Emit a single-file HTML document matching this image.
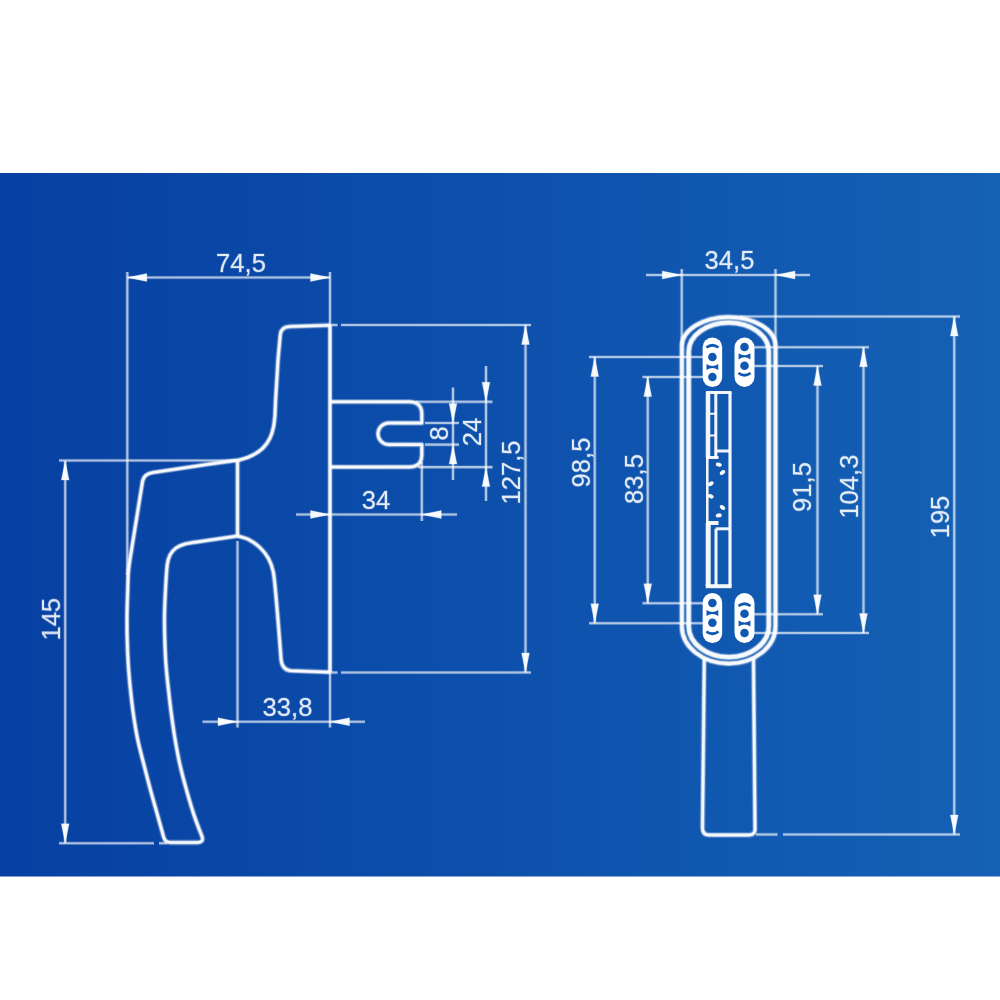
<!DOCTYPE html>
<html lang="en">
<head>
<meta charset="utf-8">
<title>Window handle – dimensional drawing</title>
<style>
html,body{margin:0;padding:0;background:#fff;}
body{width:1000px;height:1000px;overflow:hidden;position:relative;}
svg{position:absolute;left:0;top:0;display:block;}
.thin path{fill:none;stroke:#fff;stroke-opacity:.58;stroke-width:2.1;}
.thinh path{fill:none;stroke:#fff;stroke-opacity:.2;stroke-width:3.7;}
.arr polygon{fill:#fff;fill-opacity:.94;stroke:#fff;stroke-opacity:.25;stroke-width:1.2;stroke-linejoin:round;}
.thick path{fill:none;stroke:#fff;stroke-opacity:.9;stroke-width:2.6;stroke-linejoin:round;stroke-linecap:butt;}
.thickm path{fill:none;stroke:#fff;stroke-opacity:.5;stroke-width:4.0;stroke-linejoin:round;stroke-linecap:butt;}
.thickh path{fill:none;stroke:#fff;stroke-opacity:.22;stroke-width:5.8;stroke-linejoin:round;stroke-linecap:butt;}
.mech path{fill:none;stroke:#fff;stroke-opacity:.95;}
.bl{fill:#1159b0;stroke:none;}
.bls{fill:none;stroke:#1159b0;stroke-width:2.8;}
.dim text{font-family:"Liberation Sans",Arial,sans-serif;font-size:25.6px;fill:#fff;fill-opacity:.9;stroke:#fff;stroke-width:1.3;stroke-opacity:.22;stroke-linejoin:round;}
</style>
</head>
<body>
<svg width="1000" height="1000" viewBox="0 0 1000 1000" role="img" aria-label="Window handle dimensional drawing, side and front view">
<defs>
<linearGradient id="bg" x1="0" y1="0" x2="1" y2="0">
<stop offset="0" stop-color="#0740a2"/>
<stop offset="0.35" stop-color="#0b4ba9"/>
<stop offset="0.7" stop-color="#1057b0"/>
<stop offset="1" stop-color="#1561b5"/>
</linearGradient>
</defs>
<rect x="0" y="173" width="1000" height="703.5" fill="url(#bg)"/>
<g>
<g class="thinh">
<path d="M127.30,272.00 L127.30,575.00"/>
<path d="M330.00,272.00 L330.00,325.00"/>
<path d="M127.30,277.50 L330.00,277.50"/>
<path d="M330.00,325.00 L337.50,325.00"/>
<path d="M330.00,672.50 L337.50,672.50"/>
<path d="M59.00,460.50 L237.00,460.50"/>
<path d="M59.00,843.25 L154.00,843.25"/>
<path d="M159.00,843.25 L167.00,843.25"/>
<path d="M65.20,461.00 L65.20,843.00"/>
<path d="M202.50,721.75 L365.00,721.75"/>
<path d="M237.50,541.00 L237.50,727.50"/>
<path d="M330.00,672.00 L330.00,727.50"/>
<path d="M296.00,514.50 L457.00,514.50"/>
<path d="M421.80,462.00 L421.80,521.00"/>
<path d="M453.00,387.50 L453.00,480.00"/>
<path d="M425.00,423.00 L459.00,423.00"/>
<path d="M425.00,444.60 L459.00,444.60"/>
<path d="M486.00,366.00 L486.00,501.00"/>
<path d="M416.00,401.80 L492.50,401.80"/>
<path d="M418.00,467.10 L492.50,467.10"/>
<path d="M525.50,325.00 L525.50,672.50"/>
<path d="M341.00,325.00 L531.00,325.00"/>
<path d="M341.00,672.50 L531.00,672.50"/>
<path d="M646.00,275.00 L810.00,275.00"/>
<path d="M681.75,269.00 L681.75,345.00"/>
<path d="M775.50,269.00 L775.50,345.00"/>
<path d="M740.00,316.50 L960.00,316.50"/>
<path d="M756.00,834.50 L777.50,834.50"/>
<path d="M783.00,834.50 L960.00,834.50"/>
<path d="M954.25,316.50 L954.25,834.50"/>
<path d="M754.00,347.25 L869.00,347.25"/>
<path d="M754.00,633.00 L869.00,633.00"/>
<path d="M863.50,347.25 L863.50,633.00"/>
<path d="M754.00,366.00 L823.00,366.00"/>
<path d="M754.00,614.25 L823.00,614.25"/>
<path d="M817.50,366.00 L817.50,614.25"/>
<path d="M589.00,357.00 L703.00,357.00"/>
<path d="M589.00,623.25 L703.00,623.25"/>
<path d="M594.75,357.00 L594.75,623.25"/>
<path d="M642.50,377.00 L703.00,377.00"/>
<path d="M642.50,603.25 L703.00,603.25"/>
<path d="M647.75,377.00 L647.75,603.25"/>
</g>
<g class="thin">
<path d="M127.30,272.00 L127.30,575.00"/>
<path d="M330.00,272.00 L330.00,325.00"/>
<path d="M127.30,277.50 L330.00,277.50"/>
<path d="M330.00,325.00 L337.50,325.00"/>
<path d="M330.00,672.50 L337.50,672.50"/>
<path d="M59.00,460.50 L237.00,460.50"/>
<path d="M59.00,843.25 L154.00,843.25"/>
<path d="M159.00,843.25 L167.00,843.25"/>
<path d="M65.20,461.00 L65.20,843.00"/>
<path d="M202.50,721.75 L365.00,721.75"/>
<path d="M237.50,541.00 L237.50,727.50"/>
<path d="M330.00,672.00 L330.00,727.50"/>
<path d="M296.00,514.50 L457.00,514.50"/>
<path d="M421.80,462.00 L421.80,521.00"/>
<path d="M453.00,387.50 L453.00,480.00"/>
<path d="M425.00,423.00 L459.00,423.00"/>
<path d="M425.00,444.60 L459.00,444.60"/>
<path d="M486.00,366.00 L486.00,501.00"/>
<path d="M416.00,401.80 L492.50,401.80"/>
<path d="M418.00,467.10 L492.50,467.10"/>
<path d="M525.50,325.00 L525.50,672.50"/>
<path d="M341.00,325.00 L531.00,325.00"/>
<path d="M341.00,672.50 L531.00,672.50"/>
<path d="M646.00,275.00 L810.00,275.00"/>
<path d="M681.75,269.00 L681.75,345.00"/>
<path d="M775.50,269.00 L775.50,345.00"/>
<path d="M740.00,316.50 L960.00,316.50"/>
<path d="M756.00,834.50 L777.50,834.50"/>
<path d="M783.00,834.50 L960.00,834.50"/>
<path d="M954.25,316.50 L954.25,834.50"/>
<path d="M754.00,347.25 L869.00,347.25"/>
<path d="M754.00,633.00 L869.00,633.00"/>
<path d="M863.50,347.25 L863.50,633.00"/>
<path d="M754.00,366.00 L823.00,366.00"/>
<path d="M754.00,614.25 L823.00,614.25"/>
<path d="M817.50,366.00 L817.50,614.25"/>
<path d="M589.00,357.00 L703.00,357.00"/>
<path d="M589.00,623.25 L703.00,623.25"/>
<path d="M594.75,357.00 L594.75,623.25"/>
<path d="M642.50,377.00 L703.00,377.00"/>
<path d="M642.50,603.25 L703.00,603.25"/>
<path d="M647.75,377.00 L647.75,603.25"/>
</g>
<g class="arr">
<polygon points="127.30,277.50 146.80,273.60 146.80,281.40"/>
<polygon points="330.00,277.50 310.50,273.60 310.50,281.40"/>
<polygon points="65.20,460.50 61.30,480.00 69.10,480.00"/>
<polygon points="65.20,843.25 61.30,823.75 69.10,823.75"/>
<polygon points="237.50,721.75 218.00,717.85 218.00,725.65"/>
<polygon points="330.00,721.75 349.50,717.85 349.50,725.65"/>
<polygon points="330.00,514.50 310.50,510.60 310.50,518.40"/>
<polygon points="421.80,514.50 441.30,510.60 441.30,518.40"/>
<polygon points="453.00,423.00 449.10,403.50 456.90,403.50"/>
<polygon points="453.00,444.60 449.10,464.10 456.90,464.10"/>
<polygon points="486.00,401.80 482.10,382.30 489.90,382.30"/>
<polygon points="486.00,467.10 482.10,486.60 489.90,486.60"/>
<polygon points="525.50,325.00 521.60,344.50 529.40,344.50"/>
<polygon points="525.50,672.50 521.60,653.00 529.40,653.00"/>
<polygon points="681.75,275.00 662.25,271.10 662.25,278.90"/>
<polygon points="775.50,275.00 795.00,271.10 795.00,278.90"/>
<polygon points="954.25,316.50 950.35,336.00 958.15,336.00"/>
<polygon points="954.25,834.50 950.35,815.00 958.15,815.00"/>
<polygon points="863.50,347.25 859.60,366.75 867.40,366.75"/>
<polygon points="863.50,633.00 859.60,613.50 867.40,613.50"/>
<polygon points="817.50,366.00 813.60,385.50 821.40,385.50"/>
<polygon points="817.50,614.25 813.60,594.75 821.40,594.75"/>
<polygon points="594.75,357.00 590.85,376.50 598.65,376.50"/>
<polygon points="594.75,623.25 590.85,603.75 598.65,603.75"/>
<polygon points="647.75,377.00 643.85,396.50 651.65,396.50"/>
<polygon points="647.75,603.25 643.85,583.75 651.65,583.75"/>
</g>
<g class="thickh">
<path d="M330.00,325.00 L330.00,672.30"/>
<path d="M237.50,460.50 L237.50,535.80"/>
<path d="M330.00,325.2 L290,326.5 Q281.3,326.8 280.3,334.5 L278,360 L275.6,400 L275,415  C274.75,417.00 274.33,423.17 273.50,427.00 C272.67,430.83 271.75,434.50 270.00,438.00 C268.25,441.50 265.83,445.17 263.00,448.00 C260.17,450.83 256.50,453.12 253.00,455.00 C249.50,456.88 245.83,458.27 242.00,459.30 C238.17,460.33 235.33,460.42 230.00,461.20 C224.67,461.98 213.33,463.53 210.00,464.00 L180,468.5 L153,472.5 Q144.2,473.8 142.6,481 L131.5,550  C131.18,552.00 130.13,558.17 129.60,562.00 C129.07,565.83 128.62,568.33 128.30,573.00 C127.98,577.67 127.92,583.00 127.70,590.00 C127.48,597.00 127.08,606.67 127.00,615.00 C126.92,623.33 126.98,631.67 127.20,640.00 C127.42,648.33 127.75,656.67 128.30,665.00 C128.85,673.33 129.63,681.67 130.50,690.00 C131.37,698.33 132.28,706.67 133.50,715.00 C134.72,723.33 136.05,731.67 137.80,740.00 C139.55,748.33 141.88,756.67 144.00,765.00 C146.12,773.33 148.25,781.67 150.50,790.00 C152.75,798.33 155.28,807.08 157.50,815.00 C159.72,822.92 162.75,833.75 163.80,837.50 Q165.3,842.5 170.5,842.5 L197,842.5 Q204,842.5 202,836.5  C200.67,832.92 196.58,822.75 194.00,815.00 C191.42,807.25 188.83,798.33 186.50,790.00 C184.17,781.67 181.88,773.33 180.00,765.00 C178.12,756.67 176.62,748.33 175.20,740.00 C173.78,731.67 172.62,723.33 171.50,715.00 C170.38,706.67 169.42,698.33 168.50,690.00 C167.58,681.67 166.62,673.33 166.00,665.00 C165.38,656.67 165.05,648.33 164.80,640.00 C164.55,631.67 164.38,623.33 164.50,615.00 C164.62,606.67 165.05,598.33 165.50,590.00 C165.95,581.67 166.45,570.83 167.20,565.00 C167.95,559.17 168.53,557.83 170.00,555.00 C171.47,552.17 173.50,549.83 176.00,548.00 C178.50,546.17 181.00,545.08 185.00,544.00 C189.00,542.92 197.50,541.92 200.00,541.50 L237.50,536  C239.25,536.53 244.25,537.27 248.00,539.20 C251.75,541.13 256.60,544.40 260.00,547.60 C263.40,550.80 266.20,554.40 268.40,558.40 C270.60,562.40 272.00,566.00 273.20,571.60 C274.40,577.20 275.20,588.60 275.60,592.00 L278,620 L280,645 L281,659 Q282,670 291,670.7 L330.00,672.2"/>
<path d="M330.00,401.80 L409.30,401.80 Q421.80,401.80 421.80,414.30 L421.80,423.00 L388.80,423.00 A10.80,10.80 0 0 0 388.80,444.60 L421.80,444.60 L421.80,454.50 Q421.80,467.00 409.30,467.00 L330.00,467.00"/>
<path d="M681.90,346.00 A46.80,29.00 0 0 1 775.50,346.00 L775.50,626.60 A46.80,37.00 0 0 1 681.90,626.60 Z" style="stroke-width:6.5"/>
<path d="M688.70,351.50 A40.05,29.00 0 0 1 768.80,351.50 L768.80,626.20 A40.05,31.00 0 0 1 688.70,626.20 Z" style="stroke-width:7.0"/>
<path d="M704.3,658 L702.5,828 Q702.5,835 709,835 L749,835 Q755.5,835 755,828 L753.5,659"/>
</g>
<g class="thickm">
<path d="M330.00,325.00 L330.00,672.30"/>
<path d="M237.50,460.50 L237.50,535.80"/>
<path d="M330.00,325.2 L290,326.5 Q281.3,326.8 280.3,334.5 L278,360 L275.6,400 L275,415  C274.75,417.00 274.33,423.17 273.50,427.00 C272.67,430.83 271.75,434.50 270.00,438.00 C268.25,441.50 265.83,445.17 263.00,448.00 C260.17,450.83 256.50,453.12 253.00,455.00 C249.50,456.88 245.83,458.27 242.00,459.30 C238.17,460.33 235.33,460.42 230.00,461.20 C224.67,461.98 213.33,463.53 210.00,464.00 L180,468.5 L153,472.5 Q144.2,473.8 142.6,481 L131.5,550  C131.18,552.00 130.13,558.17 129.60,562.00 C129.07,565.83 128.62,568.33 128.30,573.00 C127.98,577.67 127.92,583.00 127.70,590.00 C127.48,597.00 127.08,606.67 127.00,615.00 C126.92,623.33 126.98,631.67 127.20,640.00 C127.42,648.33 127.75,656.67 128.30,665.00 C128.85,673.33 129.63,681.67 130.50,690.00 C131.37,698.33 132.28,706.67 133.50,715.00 C134.72,723.33 136.05,731.67 137.80,740.00 C139.55,748.33 141.88,756.67 144.00,765.00 C146.12,773.33 148.25,781.67 150.50,790.00 C152.75,798.33 155.28,807.08 157.50,815.00 C159.72,822.92 162.75,833.75 163.80,837.50 Q165.3,842.5 170.5,842.5 L197,842.5 Q204,842.5 202,836.5  C200.67,832.92 196.58,822.75 194.00,815.00 C191.42,807.25 188.83,798.33 186.50,790.00 C184.17,781.67 181.88,773.33 180.00,765.00 C178.12,756.67 176.62,748.33 175.20,740.00 C173.78,731.67 172.62,723.33 171.50,715.00 C170.38,706.67 169.42,698.33 168.50,690.00 C167.58,681.67 166.62,673.33 166.00,665.00 C165.38,656.67 165.05,648.33 164.80,640.00 C164.55,631.67 164.38,623.33 164.50,615.00 C164.62,606.67 165.05,598.33 165.50,590.00 C165.95,581.67 166.45,570.83 167.20,565.00 C167.95,559.17 168.53,557.83 170.00,555.00 C171.47,552.17 173.50,549.83 176.00,548.00 C178.50,546.17 181.00,545.08 185.00,544.00 C189.00,542.92 197.50,541.92 200.00,541.50 L237.50,536  C239.25,536.53 244.25,537.27 248.00,539.20 C251.75,541.13 256.60,544.40 260.00,547.60 C263.40,550.80 266.20,554.40 268.40,558.40 C270.60,562.40 272.00,566.00 273.20,571.60 C274.40,577.20 275.20,588.60 275.60,592.00 L278,620 L280,645 L281,659 Q282,670 291,670.7 L330.00,672.2"/>
<path d="M330.00,401.80 L409.30,401.80 Q421.80,401.80 421.80,414.30 L421.80,423.00 L388.80,423.00 A10.80,10.80 0 0 0 388.80,444.60 L421.80,444.60 L421.80,454.50 Q421.80,467.00 409.30,467.00 L330.00,467.00"/>
<path d="M681.90,346.00 A46.80,29.00 0 0 1 775.50,346.00 L775.50,626.60 A46.80,37.00 0 0 1 681.90,626.60 Z" style="stroke-width:4.7"/>
<path d="M688.70,351.50 A40.05,29.00 0 0 1 768.80,351.50 L768.80,626.20 A40.05,31.00 0 0 1 688.70,626.20 Z" style="stroke-width:5.2"/>
<path d="M704.3,658 L702.5,828 Q702.5,835 709,835 L749,835 Q755.5,835 755,828 L753.5,659"/>
</g>
<g class="thick">
<path d="M330.00,325.00 L330.00,672.30"/>
<path d="M237.50,460.50 L237.50,535.80"/>
<path d="M330.00,325.2 L290,326.5 Q281.3,326.8 280.3,334.5 L278,360 L275.6,400 L275,415  C274.75,417.00 274.33,423.17 273.50,427.00 C272.67,430.83 271.75,434.50 270.00,438.00 C268.25,441.50 265.83,445.17 263.00,448.00 C260.17,450.83 256.50,453.12 253.00,455.00 C249.50,456.88 245.83,458.27 242.00,459.30 C238.17,460.33 235.33,460.42 230.00,461.20 C224.67,461.98 213.33,463.53 210.00,464.00 L180,468.5 L153,472.5 Q144.2,473.8 142.6,481 L131.5,550  C131.18,552.00 130.13,558.17 129.60,562.00 C129.07,565.83 128.62,568.33 128.30,573.00 C127.98,577.67 127.92,583.00 127.70,590.00 C127.48,597.00 127.08,606.67 127.00,615.00 C126.92,623.33 126.98,631.67 127.20,640.00 C127.42,648.33 127.75,656.67 128.30,665.00 C128.85,673.33 129.63,681.67 130.50,690.00 C131.37,698.33 132.28,706.67 133.50,715.00 C134.72,723.33 136.05,731.67 137.80,740.00 C139.55,748.33 141.88,756.67 144.00,765.00 C146.12,773.33 148.25,781.67 150.50,790.00 C152.75,798.33 155.28,807.08 157.50,815.00 C159.72,822.92 162.75,833.75 163.80,837.50 Q165.3,842.5 170.5,842.5 L197,842.5 Q204,842.5 202,836.5  C200.67,832.92 196.58,822.75 194.00,815.00 C191.42,807.25 188.83,798.33 186.50,790.00 C184.17,781.67 181.88,773.33 180.00,765.00 C178.12,756.67 176.62,748.33 175.20,740.00 C173.78,731.67 172.62,723.33 171.50,715.00 C170.38,706.67 169.42,698.33 168.50,690.00 C167.58,681.67 166.62,673.33 166.00,665.00 C165.38,656.67 165.05,648.33 164.80,640.00 C164.55,631.67 164.38,623.33 164.50,615.00 C164.62,606.67 165.05,598.33 165.50,590.00 C165.95,581.67 166.45,570.83 167.20,565.00 C167.95,559.17 168.53,557.83 170.00,555.00 C171.47,552.17 173.50,549.83 176.00,548.00 C178.50,546.17 181.00,545.08 185.00,544.00 C189.00,542.92 197.50,541.92 200.00,541.50 L237.50,536  C239.25,536.53 244.25,537.27 248.00,539.20 C251.75,541.13 256.60,544.40 260.00,547.60 C263.40,550.80 266.20,554.40 268.40,558.40 C270.60,562.40 272.00,566.00 273.20,571.60 C274.40,577.20 275.20,588.60 275.60,592.00 L278,620 L280,645 L281,659 Q282,670 291,670.7 L330.00,672.2"/>
<path d="M330.00,401.80 L409.30,401.80 Q421.80,401.80 421.80,414.30 L421.80,423.00 L388.80,423.00 A10.80,10.80 0 0 0 388.80,444.60 L421.80,444.60 L421.80,454.50 Q421.80,467.00 409.30,467.00 L330.00,467.00"/>
<path d="M681.90,346.00 A46.80,29.00 0 0 1 775.50,346.00 L775.50,626.60 A46.80,37.00 0 0 1 681.90,626.60 Z" style="stroke-width:3.3"/>
<path d="M688.70,351.50 A40.05,29.00 0 0 1 768.80,351.50 L768.80,626.20 A40.05,31.00 0 0 1 688.70,626.20 Z" style="stroke-width:3.8"/>
<path d="M704.3,658 L702.5,828 Q702.5,835 709,835 L749,835 Q755.5,835 755,828 L753.5,659"/>
</g>
<g class="slots">
<rect x="702.65" y="337.50" width="19.50" height="49.50" rx="9.75" fill="#fff"/><circle cx="712.40" cy="357.00" r="4.3" class="bl"/><circle cx="712.40" cy="377.00" r="4.3" class="bl"/><path class="bl" d="M706.50,363.90 Q712.40,368.10 718.30,363.90 L718.30,370.10 Q712.40,365.90 706.50,370.10 Z"/><path class="bls" d="M706.40,347.50 q6,-4.50 12,0"/>
<rect x="734.50" y="337.50" width="20.00" height="49.50" rx="10.00" fill="#fff"/><circle cx="744.50" cy="347.00" r="4.3" class="bl"/><circle cx="744.50" cy="365.80" r="4.3" class="bl"/><path class="bl" d="M738.60,353.20 Q744.50,357.40 750.40,353.20 L750.40,359.40 Q744.50,355.20 738.60,359.40 Z"/><path class="bls" d="M738.50,373.00 q6,4.50 12,0"/>
<rect x="702.65" y="593.00" width="19.50" height="50.00" rx="9.75" fill="#fff"/><circle cx="712.40" cy="603.00" r="4.3" class="bl"/><circle cx="712.40" cy="622.70" r="4.3" class="bl"/><path class="bl" d="M706.50,609.90 Q712.40,614.10 718.30,609.90 L718.30,616.10 Q712.40,611.90 706.50,616.10 Z"/><path class="bls" d="M706.40,631.50 q6,4.50 12,0"/>
<rect x="734.50" y="593.00" width="20.00" height="50.00" rx="10.00" fill="#fff"/><circle cx="744.50" cy="613.80" r="4.3" class="bl"/><circle cx="744.50" cy="633.00" r="4.3" class="bl"/><path class="bl" d="M738.60,620.40 Q744.50,624.60 750.40,620.40 L750.40,626.60 Q744.50,622.40 738.60,626.60 Z"/><path class="bls" d="M738.50,606.00 q6,-4.50 12,0"/>
</g>
<g class="mech">
<path d="M706,392.5 L731.5,392.5" stroke-width="3"/>
<path d="M708,392.5 L708,457.5" stroke-width="4.5"/>
<path d="M715.8,392.5 L715.8,457.5" stroke-width="3"/>
<path d="M730,392.5 L730,586" stroke-width="3.2"/>
<path d="M710,413.8 L716,413.8 M710,435.6 L716,435.6" stroke-width="2"/>
<path d="M715.8,451 L730,451" stroke-width="3"/>
<path d="M706,457.5 L718.5,457.5" stroke-width="3"/>
<path d="M707.3,457 L707.3,523" stroke-width="2.6"/>
<path d="M706,523 L718.5,523" stroke-width="4"/>
<path d="M715.8,528.8 L730,528.8" stroke-width="3"/>
<path d="M708.2,523 L708.2,586" stroke-width="5"/>
<path d="M716,528.8 L716,586" stroke-width="3"/>
<path d="M705.7,586.2 L731.6,586.2" stroke-width="4"/>
<ellipse cx="718.75" cy="464.60" rx="3" ry="2" transform="rotate(15 718.75 464.60)" fill="#fff" stroke="none"/>
<ellipse cx="722.50" cy="472.50" rx="3" ry="2" transform="rotate(-40 722.50 472.50)" fill="#fff" stroke="none"/>
<ellipse cx="710.80" cy="483.80" rx="3" ry="2" transform="rotate(-30 710.80 483.80)" fill="#fff" stroke="none"/>
<ellipse cx="710.80" cy="496.30" rx="3" ry="2" transform="rotate(25 710.80 496.30)" fill="#fff" stroke="none"/>
<ellipse cx="722.50" cy="507.50" rx="3" ry="2" transform="rotate(40 722.50 507.50)" fill="#fff" stroke="none"/>
<ellipse cx="718.75" cy="515.40" rx="3" ry="2" transform="rotate(-10 718.75 515.40)" fill="#fff" stroke="none"/>
</g>
<g class="dim" opacity="0.98">
<text x="241.00" y="272.00" text-anchor="middle">74,5</text>
<text transform="translate(60.00,619.20) rotate(-90)" text-anchor="middle">145</text>
<text x="287.50" y="715.75" text-anchor="middle">33,8</text>
<text x="376.00" y="509.00" text-anchor="middle">34</text>
<text transform="translate(447.50,433.50) rotate(-90)" text-anchor="middle">8</text>
<text transform="translate(481.25,432.00) rotate(-90)" text-anchor="middle">24</text>
<text transform="translate(520.00,472.50) rotate(-90)" text-anchor="middle">127,5</text>
<text x="729.50" y="268.75" text-anchor="middle">34,5</text>
<text transform="translate(948.75,517.00) rotate(-90)" text-anchor="middle">195</text>
<text transform="translate(858.00,486.60) rotate(-90)" text-anchor="middle">104,3</text>
<text transform="translate(811.25,487.00) rotate(-90)" text-anchor="middle">91,5</text>
<text transform="translate(589.50,462.50) rotate(-90)" text-anchor="middle">98,5</text>
<text transform="translate(643.00,479.00) rotate(-90)" text-anchor="middle">83,5</text>
</g>
</g>
</svg>
</body>
</html>
